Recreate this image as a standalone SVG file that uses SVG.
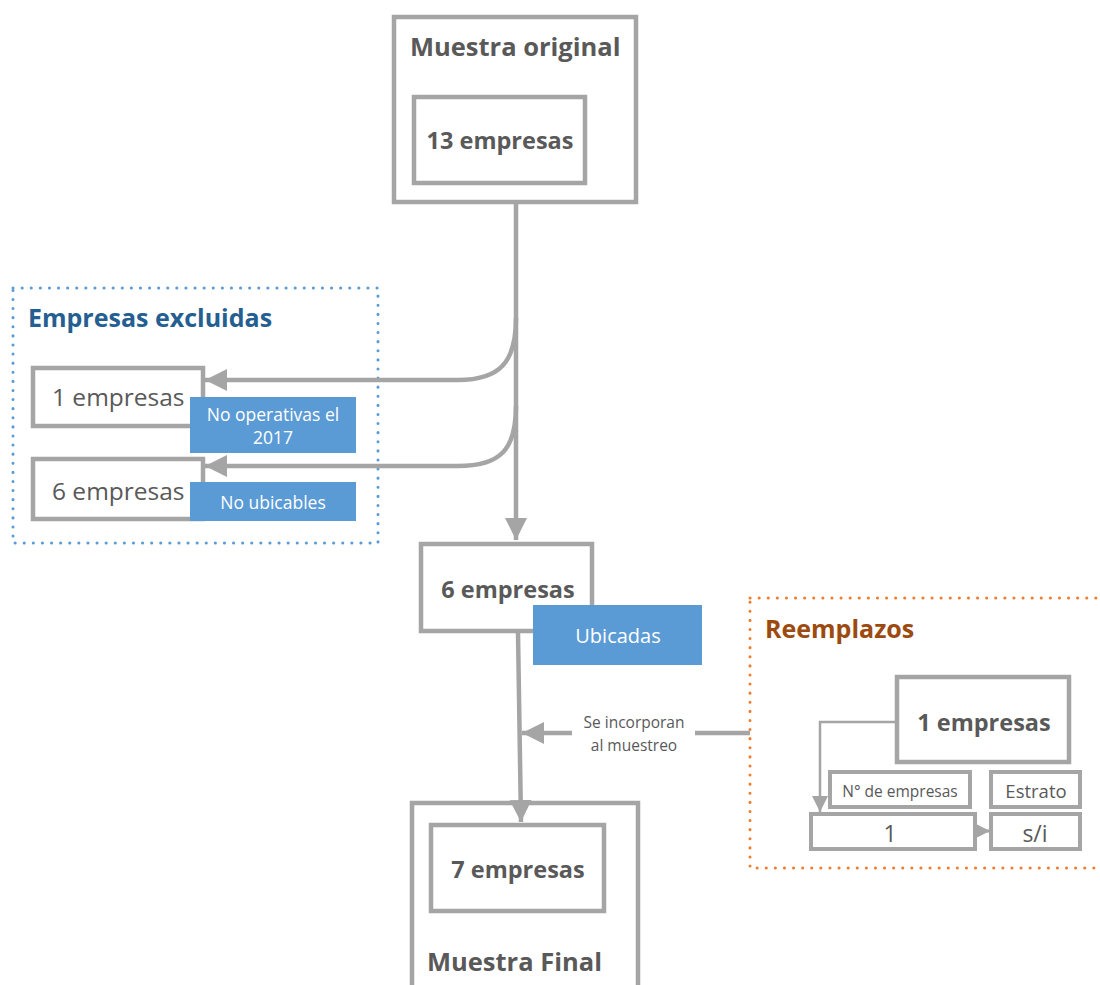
<svg xmlns="http://www.w3.org/2000/svg" width="1100" height="985" viewBox="0 0 1100 985">
<defs>
<style>
.box{fill:#fff;stroke:#A5A5A5;stroke-width:4.5}
.sbox{fill:#fff;stroke:#A5A5A5;stroke-width:4}
.t{font-family:"Open Sans","Liberation Sans",sans-serif;fill:#595959}
.b{font-weight:bold}
.lbl{fill:#5B9BD5}
.w{font-family:"Open Sans","Liberation Sans",sans-serif;fill:#fff}
.ln{fill:none;stroke:#A5A5A5;stroke-width:4.5}
</style>
<marker id="ah" markerUnits="userSpaceOnUse" markerWidth="24" markerHeight="24" viewBox="0 0 24 24" refX="22" refY="12" orient="auto">
<path d="M0,1 L22,12 L0,23 Z" fill="#A5A5A5"/>
</marker>
<marker id="ahs" markerUnits="userSpaceOnUse" markerWidth="18" markerHeight="18" viewBox="0 0 18 18" refX="16" refY="9" orient="auto">
<path d="M0,1 L16,9 L0,17 Z" fill="#A5A5A5"/>
</marker>
</defs>

<g id="excluidas-group">
<rect x="13" y="288" width="365" height="255" fill="none" stroke="#5B9BD5" stroke-width="3" stroke-dasharray="0.1 9" stroke-linecap="round"/>
<text x="28" y="327" class="t b" font-size="25" style="fill:#255E91">Empresas excluidas</text>
</g>

<g id="reemplazos-group">
<rect x="750" y="598" width="360" height="270" fill="none" stroke="#ED7D31" stroke-width="3" stroke-dasharray="0.1 9" stroke-linecap="round"/>
<text x="765" y="638" class="t b" font-size="25" style="fill:#9C4A10">Reemplazos</text>
</g>

<g id="muestra-original">
<rect x="394" y="17" width="242" height="185" class="box"/>
<text x="410" y="56" class="t b" font-size="25.5">Muestra original</text>
<rect x="414" y="97" width="171" height="86" class="box"/>
<text x="500" y="149" class="t b" font-size="23.5" text-anchor="middle">13 empresas</text>
</g>

<g id="excl-1">
<rect x="33" y="368" width="170" height="58" class="box"/>
<text x="52" y="406" class="t" font-size="24.5">1 empresas</text>
<rect x="190" y="397" width="166" height="56" class="lbl"/>
<text x="273" y="421" class="w" font-size="17.5" text-anchor="middle">No operativas el</text>
<text x="273" y="444" class="w" font-size="17.5" text-anchor="middle">2017</text>
</g>

<g id="excl-6">
<rect x="33" y="459" width="170" height="60" class="box"/>
<text x="52" y="500" class="t" font-size="24.5">6 empresas</text>
<rect x="190" y="482" width="166" height="39" class="lbl"/>
<text x="273" y="509" class="w" font-size="17.5" text-anchor="middle">No ubicables</text>
</g>

<g id="ubicadas">
<rect x="421" y="544" width="171" height="87" class="box"/>
<text x="508" y="598" class="t b" font-size="23.5" text-anchor="middle">6 empresas</text>
<rect x="533" y="605" width="169" height="60" class="lbl"/>
<text x="618" y="643" class="w" font-size="20" text-anchor="middle">Ubicadas</text>
</g>

<g id="reemplazo-1">
<rect x="897" y="677" width="172" height="85" class="box"/>
<text x="984" y="731" class="t b" font-size="23.5" text-anchor="middle">1 empresas</text>
</g>

<g id="hdr-num">
<rect x="830" y="772" width="140" height="35" class="sbox"/>
<text x="900" y="797" class="t" font-size="15.5" text-anchor="middle">N° de empresas</text>
</g>
<g id="hdr-estrato">
<rect x="991" y="772" width="89" height="35" class="sbox"/>
<text x="1036" y="798" class="t" font-size="18.5" text-anchor="middle">Estrato</text>
</g>
<g id="val-num">
<rect x="811" y="814" width="164" height="35" class="sbox"/>
<text x="890" y="842" class="t" font-size="23" text-anchor="middle">1</text>
</g>
<g id="val-estrato">
<rect x="991" y="814" width="89" height="35" class="sbox"/>
<text x="1035" y="842" class="t" font-size="23" text-anchor="middle">s/i</text>
</g>

<g id="muestra-final">
<rect x="412" y="803" width="226" height="200" class="box"/>
<rect x="431" y="825" width="173" height="86" class="box"/>
<text x="518" y="878" class="t b" font-size="23.5" text-anchor="middle">7 empresas</text>
<text x="427" y="971" class="t b" font-size="25.5">Muestra Final</text>
</g>

<g id="connectors">
<path class="ln" d="M516,204 L516,540" marker-end="url(#ah)"/>
<path class="ln" d="M516,318 C516,362 500,380 458,380 L205,380" marker-end="url(#ah)"/>
<path class="ln" d="M516,406 C516,450 500,466 458,466 L205,466" marker-end="url(#ah)"/>
<path class="ln" d="M518,633 L521,822" marker-end="url(#ah)"/>
<path class="ln" d="M750,733 L695,733"/>
<path class="ln" d="M572,733 L522,733" marker-end="url(#ah)"/>
<path fill="none" stroke="#A5A5A5" stroke-width="2.5" d="M895,722 L820,722 L820,812" marker-end="url(#ahs)"/>
<path fill="none" stroke="#A5A5A5" stroke-width="3" d="M977,831 L990,831" marker-end="url(#ahs)"/>
<text x="634" y="728" class="t" font-size="15.5" text-anchor="middle">Se incorporan</text>
<text x="634" y="751" class="t" font-size="15.5" text-anchor="middle">al muestreo</text>
</g>
</svg>
